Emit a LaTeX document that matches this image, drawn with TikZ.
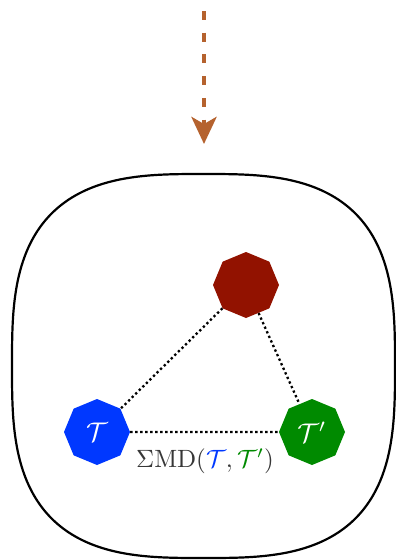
\documentclass[tikz,border=0pt]{standalone}
\usetikzlibrary{shapes.geometric,arrows.meta}
\definecolor{octred}{RGB}{146,18,0}
\definecolor{octblue}{RGB}{0,56,255}
\definecolor{octgreen}{RGB}{0,138,0}
\definecolor{arrbrown}{RGB}{181,98,46}
\definecolor{labgray}{RGB}{55,55,55}
\tikzset{
  oct/.style={regular polygon, regular polygon sides=8, shape border rotate=22.5,
    minimum size=66pt, inner sep=0pt, text=white},
  dotline/.style={line width=2.3pt, dash pattern=on 2.3pt off 2.7pt},
}
\begin{document}
\begin{tikzpicture}[x=1pt,y=-1pt]
\useasboundingbox (0,0) rectangle (396,560);
% squircle container
\draw[line width=2.2pt] plot[domain=0:360, samples=361, variable=\t, smooth]
  ({203.5+191.5*cos(\t)*pow(pow(abs(cos(\t)),3)+pow(abs(sin(\t)),3),-1/3)},
   {366+192*sin(\t)*pow(pow(abs(cos(\t)),3)+pow(abs(sin(\t)),3),-1/3)}) -- cycle;
% arrow
\coordinate (astart) at (204,11);
\coordinate (aend) at (204,144);
\draw[arrbrown, line width=4.7pt, dash pattern=on 9pt off 12.7pt,
  -{Stealth[length=27pt,width=25pt,inset=7pt]}] (astart) -- (aend);
% nodes
\node[oct, fill=octred] (r) at (246,285) {};
\node[oct, fill=octblue] (b) at (97,432) {\scalebox{2.7}{$\mathcal{T}$}};
\node[oct, fill=octgreen] (g) at (312,432) {\scalebox{2.7}{$\mathcal{T}'$}};
\draw[dotline] (r) -- (b);
\draw[dotline] (r) -- (g);
\draw[dotline] (b) -- (g);
\node[text=labgray, inner sep=0pt] (lab) at (205,461)
  {\scalebox{2.5}{$\Sigma\mathrm{MD}(\textcolor{octblue}{\mathcal{T}},\textcolor{octgreen}{\mathcal{T}'})$}};
\end{tikzpicture}
\end{document}
